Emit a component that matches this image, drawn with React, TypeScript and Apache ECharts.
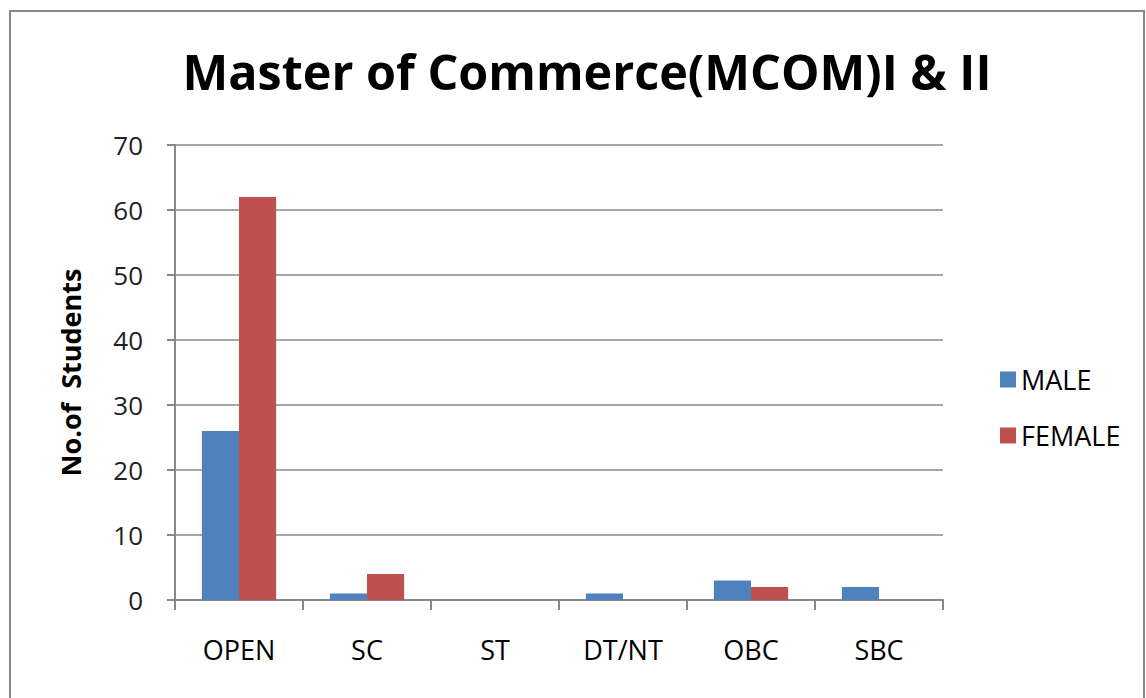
import React, { useEffect, useRef } from "react";
import * as echarts from "echarts";

const categories = ["OPEN", "SC", "ST", "DT/NT", "OBC", "SBC"];
const maleValues = [26, 1, 0, 1, 3, 2];
const femaleValues = [62, 4, 0, 0, 2, 0];
const seriesNames = ["MALE", "FEMALE"];
const titleText = "Master of Commerce(MCOM)I & II";
const yAxisName = "No.of  Students";

export default function App() {
  const ref = useRef<HTMLDivElement>(null);
  useEffect(() => {
    if (!ref.current) return;
    const chart = echarts.init(ref.current, null, { renderer: "svg" });
    const font = "Open Sans, Lato, sans-serif";
    chart.setOption({
      animation: false,
      backgroundColor: "#ffffff",
      textStyle: { fontFamily: font },
      title: {
        text: titleText,
        left: 582,
        textAlign: "center",
        top: 41,
        textStyle: { fontFamily: font, fontSize: 48.5, fontWeight: "bold", color: "#000" },
      },
      graphic: [
        {
          type: "rect",
          shape: { x: 10, y: 11, width: 1134, height: 700 },
          style: { fill: "none", stroke: "#888", lineWidth: 2 },
          silent: true,
        },
      ],
      legend: {
        orient: "vertical",
        left: 995,
        top: 361,
        itemWidth: 16,
        itemHeight: 16,
        itemGap: 29,
        icon: "rect",
        textStyle: { fontFamily: font, fontSize: 27, color: "#000" },
        data: seriesNames,
      },
      grid: { left: 175, right: 203, top: 145, bottom: 98 },
      xAxis: {
        type: "category",
        data: categories,
        axisLine: { lineStyle: { color: "#888", width: 2 } },
        axisTick: { show: true, length: 10, lineStyle: { color: "#888", width: 2 } },
        axisLabel: { fontFamily: font, fontSize: 27, color: "#000", margin: 36 },
      },
      yAxis: {
        type: "value",
        min: 0,
        max: 70,
        interval: 10,
        name: yAxisName,
        nameLocation: "middle",
        nameGap: 91,
        nameTextStyle: { fontFamily: font, fontSize: 27, fontWeight: "bold", color: "#000" },
        axisLine: { show: true, lineStyle: { color: "#888", width: 2 } },
        axisTick: { show: true, length: 8, lineStyle: { color: "#888", width: 2 } },
        axisLabel: { fontFamily: font, fontSize: 26, color: "#222", margin: 32 },
        splitLine: { lineStyle: { color: "#888", width: 1.5 } },
      },
      series: [
        {
          name: seriesNames[0],
          type: "bar",
          data: maleValues,
          barGap: "0%",
          barCategoryGap: "42%",
          itemStyle: { color: "#4F81BD" },
        },
        {
          name: seriesNames[1],
          type: "bar",
          data: femaleValues,
          barGap: "0%",
          barCategoryGap: "42%",
          itemStyle: { color: "#C0504D" },
        },
      ],
    });
    return () => chart.dispose();
  }, []);
  return (
    <div
      ref={ref}
      style={{ position: "absolute", left: 0, top: 0, width: 1146, height: 698 }}
    />
  );
}
